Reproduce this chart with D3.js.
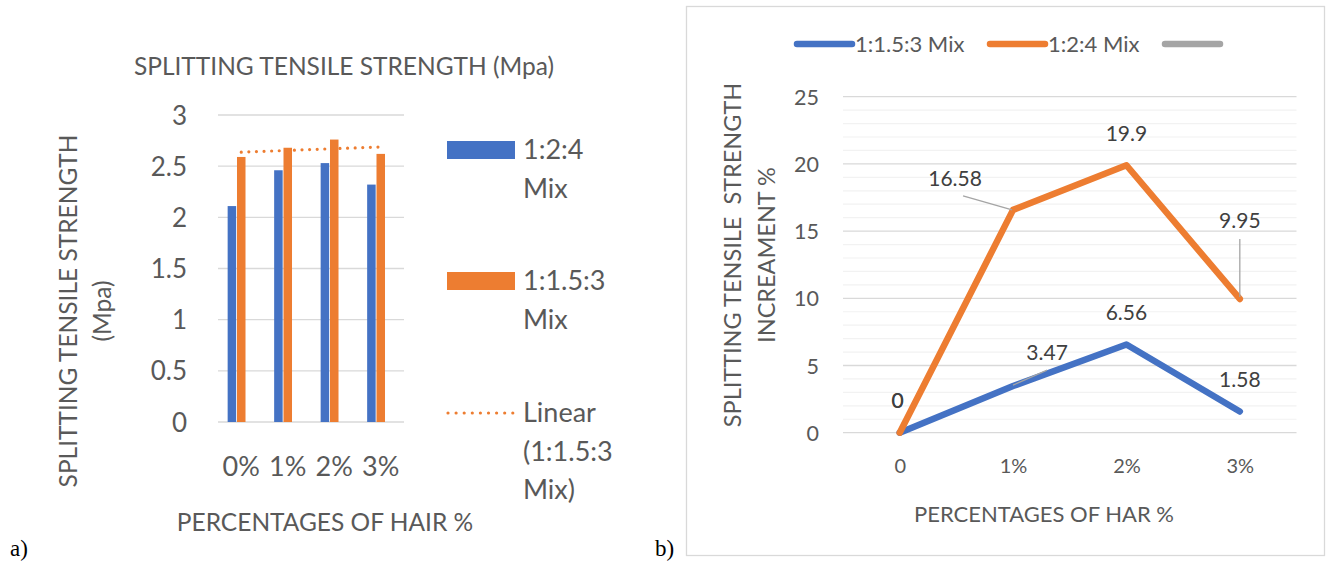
<!DOCTYPE html>
<html><head><meta charset="utf-8">
<script src="https://cdn.jsdelivr.net/npm/d3@7"></script>
<style>
html,body{margin:0;padding:0;background:#fff;}
svg{display:block;font-family:Lato, "Open Sans", sans-serif;}
</style></head>
<body>
<svg id="c" width="1327" height="564"></svg>
<script>
// ---------- data ----------
const barCategories = ["0%", "1%", "2%", "3%"];
const barSeriesNames = ["1:2:4 Mix", "1:1.5:3 Mix", ""];
const barMix124 = [2.11, 2.46, 2.53, 2.32];
const barMix1153 = [2.59, 2.68, 2.76, 2.62];
const barYTicks = [0, 0.5, 1, 1.5, 2, 2.5, 3];

const lineCategories = ["0", "1%", "2%", "3%"];
const lineSeriesNames = ["1:1.5:3 Mix", "1:2:4 Mix", ""];
const lineMix1153 = [0, 3.47, 6.56, 1.58];
const lineMix124 = [0, 16.58, 19.9, 9.95];
const lineYTicks = [0, 5, 10, 15, 20, 25];

const BLUE = "#4472C4", ORANGE = "#ED7D31", GRAY = "#A5A5A5", TXT = "#595959";
const svg = d3.select("#c");

// ================= LEFT: bar chart =================
{
  const g = svg.append("g");
  const x0 = d3.scaleBand().domain(barCategories).range([218, 404]);
  const x1 = d3.scaleBand().domain(barSeriesNames)
    .range([0, x0.bandwidth() * 0.585]).paddingInner(0.09);
  const off = (x0.bandwidth() - x0.bandwidth() * 0.585) / 2;
  const y = d3.scaleLinear().domain([0, 3]).range([422, 115]);

  g.append("g").selectAll("line").data(barYTicks).join("line")
    .attr("x1", 218).attr("x2", 404)
    .attr("y1", d => y(d)).attr("y2", d => y(d))
    .attr("stroke", "#d9d9d9").attr("stroke-width", 1.3);

  const yAx = d3.axisLeft(y).tickValues(barYTicks).tickSize(0).tickPadding(31)
    .tickFormat(d => String(d));
  const ya = g.append("g").attr("transform", "translate(218,0)").call(yAx);
  ya.select(".domain").remove();
  ya.selectAll("text").attr("fill", TXT).style("font-size", "26px")
    .style("font-family", "Lato").attr("dy", "0.35em");

  const xAx = d3.axisBottom(x0).tickSize(0).tickPadding(0);
  const xa = g.append("g").attr("transform", "translate(0,467)").call(xAx);
  xa.select(".domain").remove();
  xa.selectAll("text").attr("fill", TXT).style("font-size", "27px")
    .style("font-family", "Lato").attr("dy", "0.35em").attr("y", 0);

  const series = [
    { name: barSeriesNames[0], vals: barMix124, color: BLUE },
    { name: barSeriesNames[1], vals: barMix1153, color: ORANGE }
  ];
  series.forEach(s => {
    g.append("g").selectAll("rect").data(s.vals).join("rect")
      .attr("x", (d, i) => x0(barCategories[i]) + off + x1(s.name))
      .attr("width", x1.bandwidth())
      .attr("y", d => y(d)).attr("height", d => y(0) - y(d))
      .attr("fill", s.color);
  });

  // linear trendline for 1:1.5:3
  const xs = barMix1153.map((d, i) => i);
  const mx = d3.mean(xs), my = d3.mean(barMix1153);
  const slope = d3.sum(xs.map((xv, i) => (xv - mx) * (barMix1153[i] - my))) /
    d3.sum(xs.map(xv => (xv - mx) ** 2));
  const icpt = my - slope * mx;
  const cx = i => x0(barCategories[i]) + x0.bandwidth() / 2;
  g.append("line")
    .attr("x1", cx(0)).attr("x2", cx(3))
    .attr("y1", y(icpt)).attr("y2", y(icpt + slope * 3))
    .attr("stroke", ORANGE).attr("stroke-width", 3.2)
    .attr("stroke-linecap", "round").attr("stroke-dasharray", "0 7.6");

  g.append("text").attr("x", 344).attr("y", 66).attr("text-anchor", "middle")
    .attr("dy", "0.35em").attr("fill", TXT).style("font-size", "24.5px")
    .text("SPLITTING TENSILE STRENGTH (Mpa)");

  const yt = g.append("text").attr("transform", "translate(85,311) rotate(-90)")
    .attr("text-anchor", "middle").attr("fill", TXT).style("font-size", "24.5px");
  yt.append("tspan").attr("x", 0).attr("y", -17).attr("dy", "0.35em").text("SPLITTING TENSILE STRENGTH");
  yt.append("tspan").attr("x", 0).attr("y", 17).attr("dy", "0.35em").text("(Mpa)");

  g.append("text").attr("x", 325).attr("y", 522).attr("text-anchor", "middle")
    .attr("dy", "0.35em").attr("fill", TXT).style("font-size", "24.5px")
    .text("PERCENTAGES OF HAIR %");

  const lg = g.append("g");
  const legItems = [
    { lines: ["1:2:4", "Mix"], type: "rect", color: BLUE, y: 150 },
    { lines: ["1:1.5:3", "Mix"], type: "rect", color: ORANGE, y: 281 },
    { lines: ["Linear", "(1:1.5:3", "Mix)"], type: "dot", color: ORANGE, y: 413 }
  ];
  legItems.forEach(it => {
    if (it.type === "rect") {
      lg.append("rect").attr("x", 447).attr("y", it.y - 9).attr("width", 68).attr("height", 18)
        .attr("fill", it.color);
    } else {
      lg.append("line").attr("x1", 448).attr("x2", 513).attr("y1", it.y).attr("y2", it.y)
        .attr("stroke", it.color).attr("stroke-width", 3.2).attr("stroke-linecap", "round")
        .attr("stroke-dasharray", "0 8.1");
    }
    const t = lg.append("text").attr("fill", TXT).style("font-size", "27px");
    it.lines.forEach((l, k) => {
      t.append("tspan").attr("x", 523).attr("y", it.y + k * 38.5).attr("dy", "0.35em").text(l);
    });
  });

  svg.append("text").attr("x", 10).attr("y", 556).attr("fill", "#000")
    .style("font-family", "Liberation Serif").style("font-size", "23px").text("a)");
}

// ================= RIGHT: line chart =================
{
  const g = svg.append("g");
  g.append("rect").attr("x", 686.5).attr("y", 6.5).attr("width", 638).attr("height", 549)
    .attr("fill", "#fff").attr("stroke", "#d9d9d9").attr("stroke-width", 1.3);

  const x = d3.scalePoint().domain(lineCategories).range([843, 1296.5]).padding(0.5);
  const y = d3.scaleLinear().domain([0, 25]).range([432.7, 96.7]);

  const minor = d3.range(0, 26).filter(v => v % 5 !== 0);
  g.append("g").selectAll("line").data(minor).join("line")
    .attr("x1", 843).attr("x2", 1296.5).attr("y1", d => y(d)).attr("y2", d => y(d))
    .attr("stroke", "#f2f2f2").attr("stroke-width", 1.2);
  g.append("g").selectAll("line").data(lineYTicks).join("line")
    .attr("x1", 843).attr("x2", 1296.5).attr("y1", d => y(d)).attr("y2", d => y(d))
    .attr("stroke", "#d9d9d9").attr("stroke-width", 1.3);

  const yAx = d3.axisLeft(y).tickValues(lineYTicks).tickSize(0).tickPadding(24);
  const ya = g.append("g").attr("transform", "translate(843,0)").call(yAx);
  ya.select(".domain").remove();
  ya.selectAll("text").attr("fill", TXT).style("font-size", "21.5px")
    .style("font-family", "Lato").attr("dy", "0.35em");

  const xAx = d3.axisBottom(x).tickSize(0).tickPadding(0);
  const xa = g.append("g").attr("transform", "translate(0,466)").call(xAx);
  xa.select(".domain").remove();
  xa.selectAll("text").attr("fill", TXT).style("font-size", "20px")
    .style("font-family", "Lato").attr("dy", "0.35em").attr("y", 0);

  const line = d3.line().x((d, i) => x(lineCategories[i])).y(d => y(d));
  g.append("path").datum(lineMix1153).attr("d", line).attr("fill", "none")
    .attr("stroke", BLUE).attr("stroke-width", 6.5).attr("stroke-linejoin", "round").attr("stroke-linecap", "round");
  g.append("path").datum(lineMix124).attr("d", line).attr("fill", "none")
    .attr("stroke", ORANGE).attr("stroke-width", 6.5).attr("stroke-linejoin", "round").attr("stroke-linecap", "round");

  const lab = (v, i, dx, dy) => {
    g.append("text").attr("x", x(lineCategories[i]) + dx).attr("y", y(v) + dy)
      .attr("text-anchor", "middle").attr("dy", "0.35em").attr("fill", "#404040")
      .style("font-size", "21px").text(String(v));
  };
  const leader = (x1, y1, x2, y2) => g.append("line").attr("x1", x1).attr("y1", y1)
    .attr("x2", x2).attr("y2", y2).attr("stroke", GRAY).attr("stroke-width", 1.3);

  leader(x(lineCategories[1]) - 50, y(lineMix124[1]) - 14, x(lineCategories[1]) - 1, y(lineMix124[1]));
  leader(x(lineCategories[3]), y(lineMix124[3]) - 60, x(lineCategories[3]), y(lineMix124[3]) - 2);
  leader(x(lineCategories[1]), y(lineMix1153[1]) - 1, x(lineCategories[1]) + 34, y(lineMix1153[1]) - 16);

  lab(lineMix1153[0], 0, -2, -32);
  lab(lineMix124[0], 0, -2, -32);
  lab(lineMix124[1], 1, -58, -31);
  lab(lineMix124[2], 2, 0, -32);
  lab(lineMix124[3], 3, 0, -78);
  lab(lineMix1153[1], 1, 34, -33);
  lab(lineMix1153[2], 2, 0, -32);
  lab(lineMix1153[3], 3, 0, -32);

  const leg = [
    { name: lineSeriesNames[0], color: BLUE, x: 797 },
    { name: lineSeriesNames[1], color: ORANGE, x: 990 },
    { name: lineSeriesNames[2], color: GRAY, x: 1165 }
  ];
  leg.forEach(l => {
    g.append("line").attr("x1", l.x).attr("x2", l.x + 55).attr("y1", 44).attr("y2", 44)
      .attr("stroke", l.color).attr("stroke-width", 6.5).attr("stroke-linecap", "round");
    g.append("text").attr("x", l.x + 58).attr("y", 44).attr("dy", "0.35em").attr("fill", TXT)
      .style("font-size", "22px").text(l.name);
  });

  const yt = g.append("text").attr("transform", "translate(750,255) rotate(-90)")
    .attr("text-anchor", "middle").attr("fill", TXT).style("font-size", "23.5px")
    .style("white-space", "pre").attr("xml:space", "preserve");
  yt.append("tspan").attr("x", 0).attr("y", -17).attr("dy", "0.35em").text("SPLITTING TENSILE  STRENGTH");
  yt.append("tspan").attr("x", 0).attr("y", 17).attr("dy", "0.35em").text("INCREAMENT %");

  g.append("text").attr("x", 1044).attr("y", 514).attr("text-anchor", "middle").attr("dy", "0.35em")
    .attr("fill", TXT).style("font-size", "22px").text("PERCENTAGES OF HAR %");

  svg.append("text").attr("x", 655).attr("y", 556).attr("fill", "#000")
    .style("font-family", "Liberation Serif").style("font-size", "23px").text("b)");
}
</script>
</body></html>
